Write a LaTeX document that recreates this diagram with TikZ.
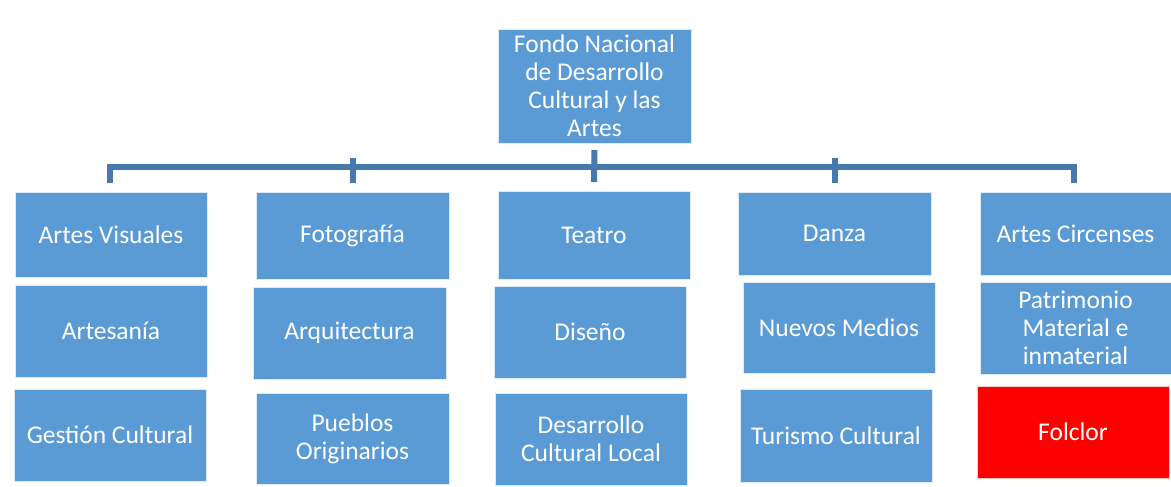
\documentclass[tikz,border=0pt]{standalone}
\usepackage{fontspec}
\setmainfont{Carlito}
\definecolor{boxblue}{RGB}{91,155,213}
\definecolor{linkblue}{RGB}{70,122,172}
\definecolor{folred}{RGB}{255,0,0}
\begin{document}
\begin{tikzpicture}[x=1pt,y=1pt,
  cell/.style={fill=boxblue,draw=white!80!boxblue,line width=0.6pt,inner sep=0pt,outer sep=0pt,
    text=white,align=center,font=\fontsize{25.5}{28}\selectfont},
  conn/.style={draw=linkblue,line width=6pt,line join=miter}]
\useasboundingbox (0,0) rectangle (1171,-487);
\fill[white] (0,0) rectangle (1171,-487);
% top
\node[cell,minimum width=193,minimum height=114] (top) at (594.5,-86) {Fondo Nacional\\de Desarrollo\\Cultural y las\\Artes};
% column 1
\node[cell,minimum width=192,minimum height=85] (c1) at (111,-234.5) {Artes Visuales};
\node[cell,minimum width=192,minimum height=92] (c1b) at (111,-331) {Artesanía};
\node[cell,minimum width=192,minimum height=92] (c1c) at (110,-435) {Gestión Cultural};
% column 2
\node[cell,minimum width=193,minimum height=87] (c2) at (352.5,-235.5) {Fotografía};
\node[cell,minimum width=193,minimum height=92] (c2b) at (349.5,-333) {Arquitectura};
\node[cell,minimum width=193,minimum height=91] (c2c) at (352.5,-438.5) {Pueblos\\Originarios};
% column 3
\node[cell,minimum width=192,minimum height=88] (c3) at (594,-235) {Teatro};
\node[cell,minimum width=192,minimum height=92] (c3b) at (590,-332) {Diseño};
\node[cell,minimum width=192,minimum height=92] (c3c) at (591,-439) {Desarrollo\\Cultural Local};
% column 4
\node[cell,minimum width=193,minimum height=83] (c4) at (834.5,-233.5) {Danza};
\node[cell,minimum width=192,minimum height=91] (c4b) at (839,-327.5) {Nuevos Medios};
\node[cell,minimum width=192,minimum height=93] (c4c) at (836,-435.5) {Turismo Cultural};
% column 5
\node[cell,minimum width=191,minimum height=83] (c5) at (1075.5,-233.5) {Artes Circenses};
\node[cell,minimum width=191,minimum height=92] (c5b) at (1075.5,-328) {Patrimonio\\Material e\\inmaterial};
\node[cell,fill=folred,draw=white!80!folred,minimum width=192,minimum height=92] (c5c) at (1073,-432) {Folclor};
% connectors
\coordinate (bar) at (594,-167);
\draw[conn] ([yshift=-7pt]top.south) -- ([yshift=9pt]c3.north);
\draw[conn] ([shift={(-1pt,9pt)}]c1.north) |- (bar) -| ([shift={(-1.5pt,9pt)}]c5.north);
\draw[conn] ([yshift=9pt]c2.north) -- ([yshift=9pt]c2.north |- bar);
\draw[conn] ([yshift=9pt]c4.north) -- ([yshift=9pt]c4.north |- bar);
\end{tikzpicture}
\end{document}
